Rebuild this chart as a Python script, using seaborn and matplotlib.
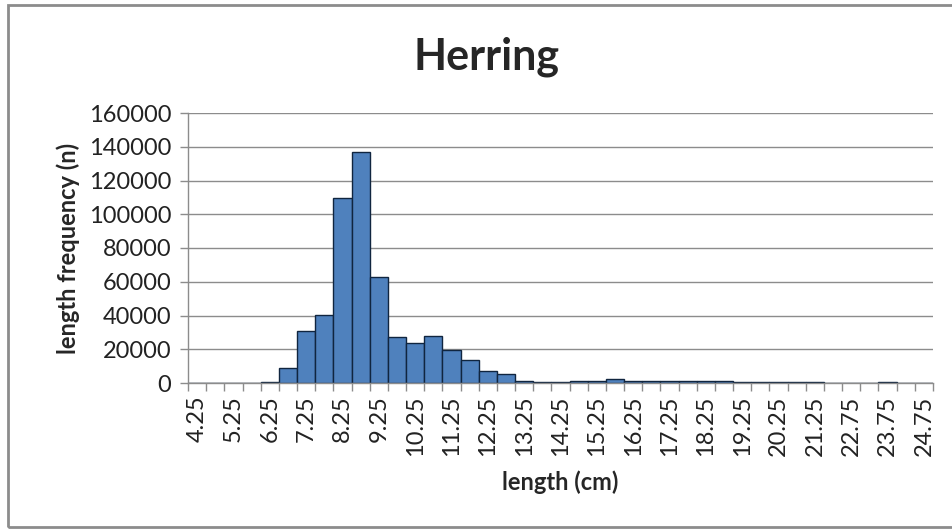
import numpy as np
import pandas as pd
import seaborn as sns
import matplotlib.pyplot as plt
from matplotlib.patches import Rectangle

# length classes (cm) as they appear on the category axis (22.25 is absent)
lengths = ['4.25', '4.75', '5.25', '5.75', '6.25', '6.75', '7.25', '7.75', '8.25', '8.75',
           '9.25', '9.75', '10.25', '10.75', '11.25', '11.75', '12.25', '12.75', '13.25', '13.75',
           '14.25', '14.75', '15.25', '15.75', '16.25', '16.75', '17.25', '17.75', '18.25', '18.75',
           '19.25', '19.75', '20.25', '20.75', '21.25', '21.75', '22.75', '23.25', '23.75', '24.25',
           '24.75']
# length frequency (n)
counts = [200, 200, 200, 200, 800, 8900, 30800, 40300, 109400, 137000,
          63000, 27100, 23700, 27850, 19700, 13800, 7300, 5300, 1000, 400,
          400, 1000, 1000, 2200, 1400, 1400, 1400, 1400, 1400, 1000,
          300, 300, 300, 300, 300, 0, 0, 0, 500, 0,
          0]

df = pd.DataFrame({'length': lengths, 'n': counts})

sns.set_style("white")
plt.rcParams['font.family'] = ['Lato', 'DejaVu Sans']

fig = plt.figure(figsize=(9.53, 5.29), dpi=100)
ax = fig.add_axes([188 / 953, 1 - 383 / 529, (933 - 188) / 953, (383 - 113) / 529])

sns.barplot(data=df, x='length', y='n', order=lengths, color='#4F81BD',
            edgecolor='#10253F', linewidth=1.0, width=1.0, saturation=1, ax=ax)

ax.set_ylim(0, 160000)
ax.set_xlim(-0.5, len(lengths) - 0.5)
ax.set_yticks(np.arange(0, 160001, 20000))
ax.yaxis.grid(True, color='#8c8c8c', lw=1)
ax.set_axisbelow(True)

# labels on every other category, tick marks between categories
ax.set_xticks(np.arange(0, len(lengths), 2))
ax.set_xticklabels(lengths[::2], rotation=90)
ax.set_xticks(np.arange(-0.5, len(lengths), 1), minor=True)
ax.tick_params(axis='x', which='major', length=0, pad=9, labelsize=17, colors='#222222')
ax.tick_params(axis='x', which='minor', length=6, width=1, color='#8c8c8c', direction='out', bottom=True)
ax.tick_params(axis='y', length=6, width=1, color='#8c8c8c', direction='out', left=True, labelsize=17,
               colors='#222222', pad=6)
for lab in ax.get_yticklabels():
    lab.set_color('#222222')

for s in ['top', 'right']:
    ax.spines[s].set_visible(False)
for s in ['left', 'bottom']:
    ax.spines[s].set_color('#8c8c8c')
    ax.spines[s].set_linewidth(1)

ax.set_xlabel('length (cm)', fontsize=17, fontweight='bold', labelpad=10)
ax.set_ylabel('length frequency (n)', fontsize=17, fontweight='bold', labelpad=6)

fig.text(487 / 953, 1 - 57 / 529, 'Herring', fontsize=31, fontweight='bold',
         ha='center', va='center')

# chart area border
fig.add_artist(Rectangle((8 / 953, 2 / 529), 1.2, 1 - 7 / 529, transform=fig.transFigure,
                         fill=False, edgecolor='#8c8c8c', lw=2, clip_on=False))

plt.savefig('out.png', dpi=100)
